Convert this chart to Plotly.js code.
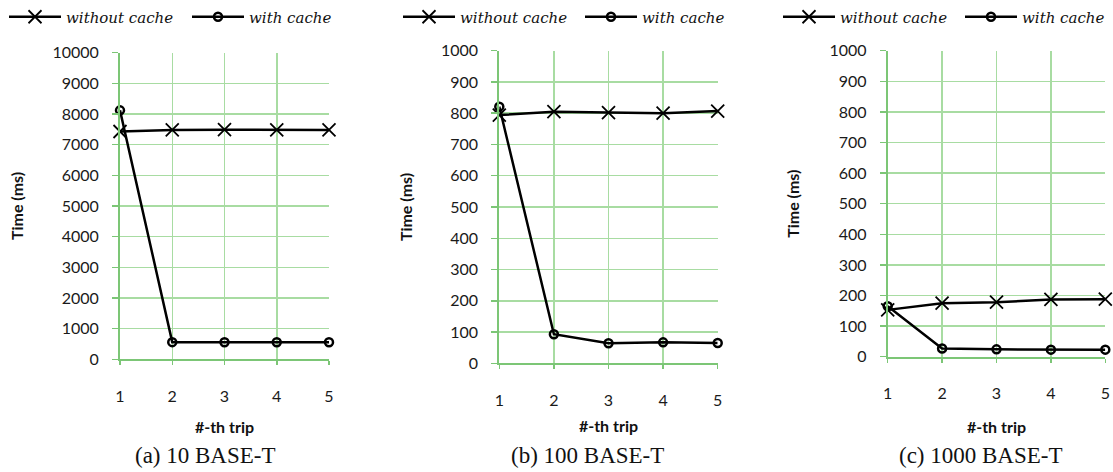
<!DOCTYPE html>
<html>
<head>
<meta charset="utf-8">
<script src="https://cdn.plot.ly/plotly-3.0.1.min.js"></script>
<style>html,body{margin:0;padding:0;background:#fff;}#chart{width:1113px;height:472px;}</style>
</head>
<body>
<div id="chart"></div>
<script>
// ---- data ----
const trips = [1, 2, 3, 4, 5];
const seriesNames = ["without cache", "with cache"];
const captions = ["(a) 10 BASE-T", "(b) 100 BASE-T", "(c) 1000 BASE-T"];
const xTitle = "#-th trip";
const yTitle = "Time (ms)";

const a_without = [7430, 7480, 7490, 7480, 7480];
const a_with    = [8120, 560, 555, 555, 555];
const b_without = [794, 805, 802, 800, 807];
const b_with    = [821, 93, 64, 67, 65];
const c_without = [153, 175, 178, 187, 188];
const c_with    = [165, 27, 24, 23, 23];

const yMax = [10000, 1000, 1000];
const yStep = [1000, 100, 100];

// ---- styling ----
const W = 1113, H = 472;
const gridColor = "#a8dca2";
const axisColor = "#7cc676";
const tickFont = {family: "Lato, 'Open Sans', sans-serif", size: 16, color: "#1a1a1a"};
const titleFont = {family: "Lato, 'Open Sans', sans-serif", size: 16, color: "#111", weight: "bold"};
const legendFont = {family: "'DejaVu Serif', serif", size: 15, color: "#111", style: "italic"};

// panel geometry in pixels
const panels = [
  {x0: 120, x1: 329, yTop: 52.7, yBot: 359.3, legX: [8, 191],   capX: 205, ySt: 25, xSt: 18},
  {x0: 499.3, x1: 717.7, yTop: 50.7, yBot: 363.3, legX: [402, 584], capX: 587, ySt: 24, xSt: 13},
  {x0: 887.7, x1: 1105.3, yTop: 50.7, yBot: 356.7, legX: [782, 964], capX: 981, ySt: 26, xSt: 21}
];
const data_without = [a_without, b_without, c_without];
const data_with = [a_with, b_with, c_with];

const traces = [];
const layout = {
  width: W, height: H,
  margin: {l: 0, r: 0, t: 0, b: 0, autoexpand: false},
  paper_bgcolor: "#fff", plot_bgcolor: "#fff",
  showlegend: true,
  annotations: []
};

let legN = 0;
function nextLegend(xpx) {
  legN += 1;
  const id = legN === 1 ? "legend" : "legend" + legN;
  layout[id] = {
    orientation: "h", x: (xpx - 4) / W, xanchor: "left", y: 1 - 17 / H, yanchor: "middle",
    font: legendFont, bgcolor: "rgba(0,0,0,0)", itemwidth: 52
  };
  return id;
}

panels.forEach((p, i) => {
  const sfx = i === 0 ? "" : String(i + 1);
  const xa = "x" + sfx, ya = "y" + sfx;
  traces.push({
    x: trips, y: data_without[i], xaxis: xa, yaxis: ya, legend: nextLegend(p.legX[0]),
    name: seriesNames[0], type: "scatter", mode: "lines+markers", cliponaxis: false,
    line: {color: "#000", width: 2.5},
    marker: {symbol: "x-thin", size: 13, color: "#000", line: {color: "#000", width: 1.8}}
  });
  traces.push({
    x: trips, y: data_with[i], xaxis: xa, yaxis: ya, legend: nextLegend(p.legX[1]),
    name: seriesNames[1], type: "scatter", mode: "lines+markers", cliponaxis: false,
    line: {color: "#000", width: 2.5},
    marker: {symbol: "circle-open", size: 8, color: "#000", line: {color: "#000", width: 2.5}}
  });
  layout["xaxis" + sfx] = {
    domain: [p.x0 / W, p.x1 / W], anchor: ya, range: [1, 5],
    tickvals: trips, ticktext: trips.map(String),
    showgrid: true, gridcolor: gridColor, gridwidth: 1.5,
    showline: true, linecolor: axisColor, linewidth: 2,
    ticks: "outside", ticklen: 4, tickcolor: axisColor, tickwidth: 1.5,
    ticklabelstandoff: 17,
    zeroline: false, tickfont: tickFont, fixedrange: true,
    title: {text: xTitle, font: titleFont, standoff: p.xSt}
  };
  layout["yaxis" + sfx] = {
    domain: [1 - p.yBot / H, 1 - p.yTop / H], anchor: xa, range: [0, yMax[i]],
    dtick: yStep[i], tick0: 0, tickformat: "d",
    showgrid: true, gridcolor: gridColor, gridwidth: 1.5,
    showline: true, linecolor: axisColor, linewidth: 2,
    ticks: "outside", ticklen: 6, tickcolor: axisColor, tickwidth: 1.5,
    ticklabelstandoff: 10,
    zeroline: false, tickfont: tickFont, fixedrange: true,
    title: {text: yTitle, font: titleFont, standoff: p.ySt}
  };
  layout.annotations.push({
    text: captions[i], xref: "paper", yref: "paper", x: p.capX / W, y: 1 - 455 / H,
    xanchor: "center", yanchor: "middle", showarrow: false,
    font: {family: "'Liberation Serif', 'Times New Roman', serif", size: 23, color: "#111"}
  });
});

Plotly.newPlot("chart", traces, layout, {displayModeBar: false, staticPlot: true});
</script>
</body>
</html>
